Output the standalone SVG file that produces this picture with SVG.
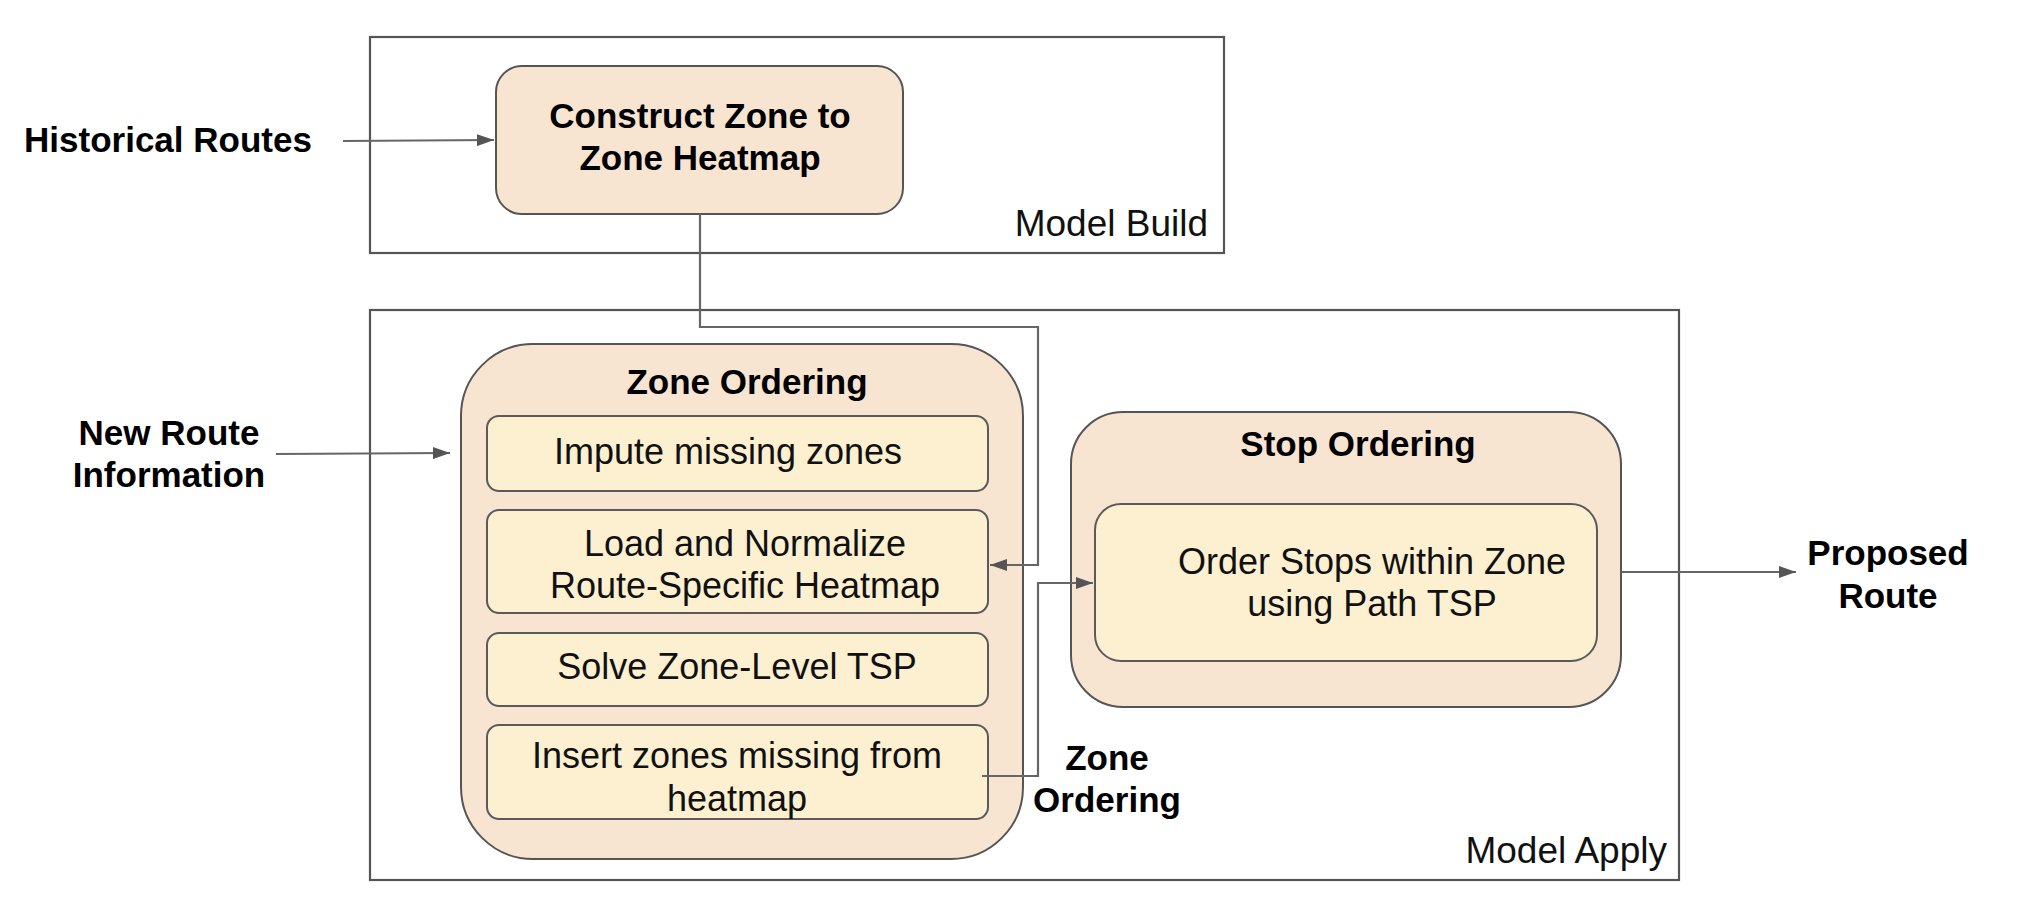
<svg xmlns="http://www.w3.org/2000/svg" width="2020" height="910" viewBox="0 0 2020 910">
<style>
.frame{fill:none;stroke:#555;stroke-width:2.2}
.outer{fill:#f8e5d1;stroke:#555;stroke-width:2}
.inner{fill:#fcf0d0;stroke:#5a5a5a;stroke-width:2}
.b{font-family:"Liberation Sans",Arial,sans-serif;font-weight:bold;font-size:35px;fill:#000;text-anchor:middle}
.l{font-family:"Liberation Sans",Arial,sans-serif;font-size:36px;fill:#111;text-anchor:middle}
.cap{font-family:"Liberation Sans",Arial,sans-serif;font-size:37px;fill:#111;text-anchor:end}
.c{fill:none;stroke:#666;stroke-width:2.2}
</style>
<defs>
<marker id="ah" viewBox="0 0 17 12" refX="17" refY="6" markerWidth="17" markerHeight="12" markerUnits="userSpaceOnUse" orient="auto">
<path d="M0,0 L17,6 L0,12 z" fill="#555"/>
</marker>
</defs>
<rect width="2020" height="910" fill="#fff"/>
<g id="model-build">
<rect class="frame" x="370" y="37" width="854" height="216"/>
<text class="cap" x="1208" y="236">Model Build</text>
</g>
<g id="model-apply">
<rect class="frame" x="370" y="310" width="1309" height="570"/>
<text class="cap" x="1667" y="863">Model Apply</text>
</g>
<g id="historical-routes"><text class="b" x="168" y="152">Historical Routes</text></g>
<g id="new-route-info">
<text class="b" x="169" y="445">New Route</text>
<text class="b" x="169" y="487">Information</text>
</g>
<g id="proposed-route">
<text class="b" x="1888" y="565">Proposed</text>
<text class="b" x="1888" y="608">Route</text>
</g>
<g id="construct">
<rect class="outer" x="496" y="66" width="407" height="148" rx="26"/>
<text class="b" x="700" y="128">Construct Zone to</text>
<text class="b" x="700" y="170">Zone Heatmap</text>
</g>
<g id="zone-ordering">
<rect class="outer" x="461" y="344" width="562" height="515" rx="72"/>
<text class="b" x="747" y="394">Zone Ordering</text>
</g>
<g id="impute">
<rect class="inner" x="487" y="416" width="501" height="75" rx="12"/>
<text class="l" x="728" y="464">Impute missing zones</text>
</g>
<g id="load">
<rect class="inner" x="487" y="510" width="501" height="103" rx="12"/>
<text class="l" x="745" y="556">Load and Normalize</text>
<text class="l" x="745" y="598">Route-Specific Heatmap</text>
</g>
<g id="solve">
<rect class="inner" x="487" y="633" width="501" height="73" rx="12"/>
<text class="l" x="737" y="679">Solve Zone-Level TSP</text>
</g>
<g id="insert">
<rect class="inner" x="487" y="725" width="501" height="94" rx="12"/>
<text class="l" x="737" y="768">Insert zones missing from</text>
<text class="l" x="737" y="811">heatmap</text>
</g>
<g id="stop-ordering">
<rect class="outer" x="1071" y="412" width="550" height="295" rx="52"/>
<text class="b" x="1358" y="456">Stop Ordering</text>
</g>
<g id="order-stops">
<rect class="inner" x="1095" y="504" width="502" height="157" rx="26"/>
<text class="l" x="1372" y="574">Order Stops within Zone</text>
<text class="l" x="1372" y="616">using Path TSP</text>
</g>
<g id="zone-ordering-label">
<text class="b" x="1107" y="770">Zone</text>
<text class="b" x="1107" y="812">Ordering</text>
</g>
<g id="connectors">
<path class="c" d="M343,141 L494,140" marker-end="url(#ah)"/>
<path class="c" d="M700,214 L700,327 L1038,327 L1038,565 L990,565" marker-end="url(#ah)"/>
<path class="c" d="M276,454 L450,453" marker-end="url(#ah)"/>
<path class="c" d="M982,776 L1038,776 L1038,583 L1093,583" marker-end="url(#ah)"/>
<path class="c" d="M1621,572 L1796,572" marker-end="url(#ah)"/>
</g>
</svg>
